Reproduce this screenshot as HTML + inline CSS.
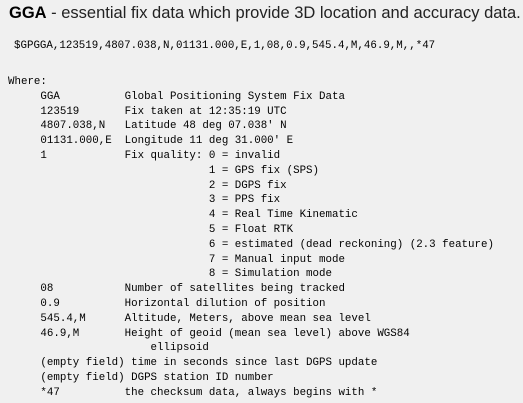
<!DOCTYPE html>
<html><head><meta charset="utf-8"><style>
html,body{margin:0;padding:0;background:#f0f0f0;width:523px;height:403px;overflow:hidden;position:relative}
.t{position:absolute;left:9px;top:4px;font:16.5px "Liberation Sans",sans-serif;color:#222;white-space:nowrap}
.t b{color:#000}
pre{position:absolute;margin:0;font:10.8px/14.8px "Liberation Mono",monospace;color:#000;white-space:pre}
</style></head><body>
<div class="t"><b>GGA</b> - essential fix data which provide 3D location and accuracy data.</div>
<pre style="left:14px;top:39px">$GPGGA,123519,4807.038,N,01131.000,E,1,08,0.9,545.4,M,46.9,M,,*47</pre>
<pre style="left:8px;top:75px">Where:
     GGA          Global Positioning System Fix Data
     123519       Fix taken at 12:35:19 UTC
     4807.038,N   Latitude 48 deg 07.038' N
     01131.000,E  Longitude 11 deg 31.000' E
     1            Fix quality: 0 = invalid
                               1 = GPS fix (SPS)
                               2 = DGPS fix
                               3 = PPS fix
                               4 = Real Time Kinematic
                               5 = Float RTK
                               6 = estimated (dead reckoning) (2.3 feature)
                               7 = Manual input mode
                               8 = Simulation mode
     08           Number of satellites being tracked
     0.9          Horizontal dilution of position
     545.4,M      Altitude, Meters, above mean sea level
     46.9,M       Height of geoid (mean sea level) above WGS84
                      ellipsoid
     (empty field) time in seconds since last DGPS update
     (empty field) DGPS station ID number
     *47          the checksum data, always begins with *</pre>
</body></html>
